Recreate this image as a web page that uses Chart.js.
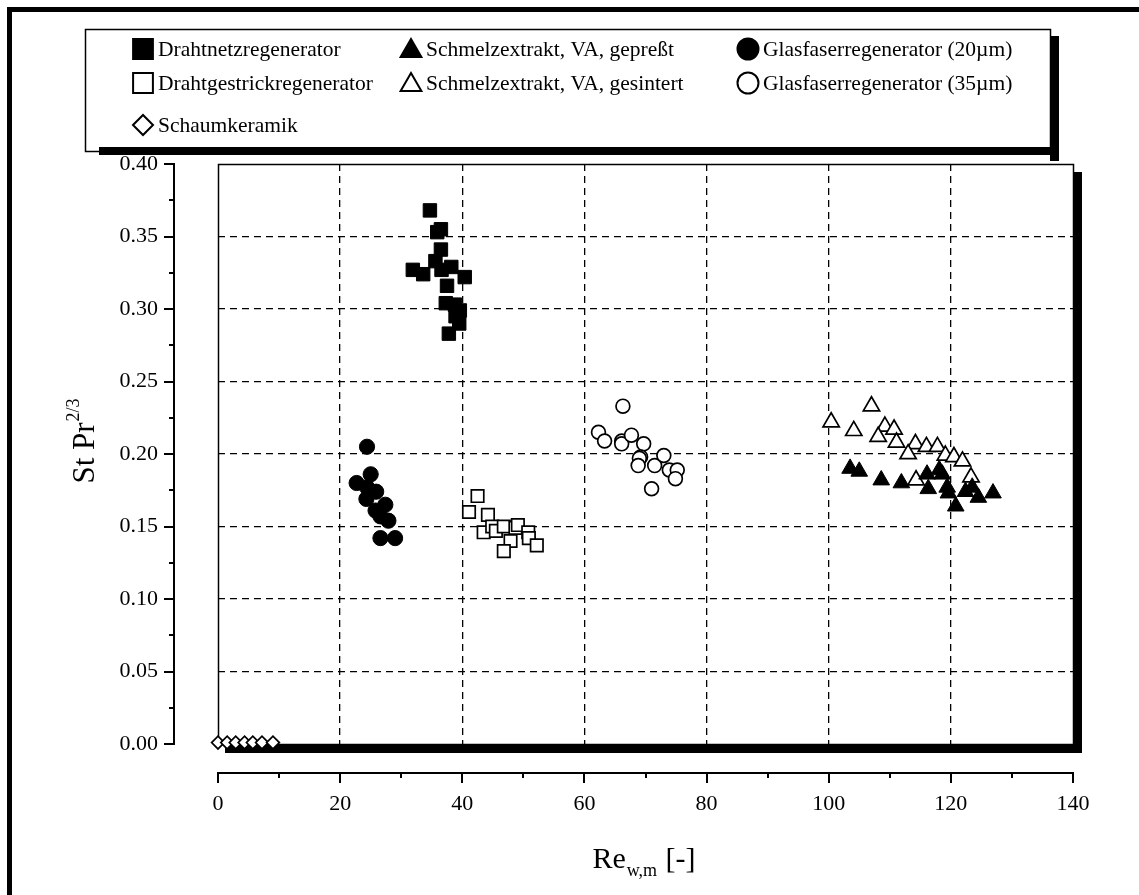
<!DOCTYPE html>
<html>
<head>
<meta charset="utf-8">
<title>St Pr^2/3 über Re</title>
<script src="https://cdn.jsdelivr.net/npm/chart.js@4.4.1/dist/chart.umd.min.js"></script>
<style>
  html, body { margin: 0; padding: 0; background: #fff; }
  #wrap { width: 1139px; height: 895px; }
</style>
</head>
<body>
<div id="wrap"><canvas id="grafico" width="1139" height="895"></canvas></div>
<script>
// Messwerte [Re_w,m, St Pr^2/3]
const drahtnetz = [[34.7,0.368],[36.5,0.355],[35.9,0.353],[36.5,0.341],[35.6,0.333],[31.9,0.327],[33.6,0.324],[36.6,0.327],[38.2,0.329],[40.4,0.322],[37.5,0.316],[37.3,0.304],[38.8,0.303],[39.6,0.299],[38.9,0.295],[39.5,0.290],[37.8,0.283]];
const drahtgestrick = [[42.5,0.171],[41.1,0.160],[44.2,0.158],[43.5,0.146],[44.9,0.150],[45.5,0.147],[46.8,0.150],[48.7,0.149],[49.1,0.151],[47.9,0.140],[46.8,0.133],[50.8,0.146],[50.9,0.142],[52.2,0.137]];
const schaumkeramik = [[0,0.001],[1.5,0.001],[2.9,0.001],[4.35,0.001],[5.7,0.001],[7.2,0.001],[9.0,0.001]];
const gepresst = [[103.5,0.190],[105.0,0.188],[108.6,0.182],[111.9,0.180],[116.1,0.186],[118.1,0.189],[118.6,0.186],[116.3,0.176],[119.4,0.177],[119.6,0.173],[120.8,0.164],[122.4,0.174],[124.5,0.170],[126.9,0.173],[123.5,0.177]];
const gesintert = [[100.4,0.222],[107.0,0.233],[104.1,0.216],[109.2,0.219],[110.7,0.217],[108.1,0.212],[111.1,0.208],[114.2,0.207],[116.0,0.205],[117.8,0.205],[113.0,0.200],[119.1,0.199],[120.5,0.198],[121.9,0.195],[123.3,0.184],[114.3,0.182]];
const glas20 = [[24.4,0.205],[22.7,0.180],[25.0,0.186],[24.4,0.177],[25.9,0.174],[24.3,0.169],[27.4,0.165],[25.8,0.161],[26.6,0.157],[27.9,0.154],[26.6,0.142],[29.0,0.142]];
const glas35 = [[66.3,0.233],[62.3,0.215],[63.3,0.209],[66.1,0.209],[66.1,0.207],[67.7,0.213],[69.7,0.207],[69.2,0.198],[69.0,0.197],[68.8,0.192],[71.5,0.192],[73.0,0.199],[73.9,0.189],[75.2,0.189],[74.9,0.183],[71.0,0.176]];

const xMin = 0, xMax = 140, xStep = 20;
const yMin = 0, yMax = 0.4, yStep = 0.05;

// Legende: Name, Punktstil, gefüllt, Größe im Diagramm
const serien = [
  { label: 'Drahtnetzregenerator', data: drahtnetz, style: 'rect', filled: true, r: 9.5 },
  { label: 'Drahtgestrickregenerator', data: drahtgestrick, style: 'rect', filled: false, r: 8.8 },
  { label: 'Schaumkeramik', data: schaumkeramik, style: 'rectRot', filled: false, r: 6.4 },
  { label: 'Schmelzextrakt, VA, gepreßt', data: gepresst, style: 'triangle', filled: true, r: 9.6 },
  { label: 'Schmelzextrakt, VA, gesintert', data: gesintert, style: 'triangle', filled: false, r: 9.4 },
  { label: 'Glasfaserregenerator (20µm)', data: glas20, style: 'circle', filled: true, r: 7.6 },
  { label: 'Glasfaserregenerator (35µm)', data: glas35, style: 'circle', filled: false, r: 6.9 }
];

const SERIF = '"Liberation Serif", "Times New Roman", serif';
Chart.defaults.font.family = SERIF;
Chart.defaults.color = '#000';

function istRand(v, a, b) {
  return Math.abs(v - a) < 1e-9 || Math.abs(v - b) < 1e-9;
}

const rahmen = {
  id: 'rahmen',
  beforeDraw(chart) {
    const ctx = chart.ctx;
    ctx.save();
    ctx.fillStyle = '#fff';
    ctx.fillRect(0, 0, chart.width, chart.height);
    // äußerer Rahmen
    ctx.fillStyle = '#000';
    ctx.fillRect(7, 7, chart.width - 7, 5);
    ctx.fillRect(7, 7, 5, chart.height - 7);
    ctx.restore();
  },
  beforeDatasetsDraw(chart) {
    const { ctx, chartArea: a } = chart;
    ctx.save();
    ctx.strokeStyle = '#000';
    ctx.lineWidth = 1.5;
    ctx.strokeRect(a.left + 0.5, a.top + 0.5, a.right - a.left, a.bottom - a.top);
    ctx.fillStyle = '#000';
    ctx.fillRect(a.right, a.top + 8, 9, a.bottom - a.top + 1);
    ctx.fillRect(a.left + 7, a.bottom, a.right - a.left + 2, 9);
    ctx.restore();
  },
  afterDraw(chart) {
    const { ctx, scales } = chart;
    const xs = scales.x, ys = scales.y;
    ctx.save();
    ctx.strokeStyle = '#000';
    ctx.lineWidth = 2;

    // abgesetzte y-Achse
    const ax = 174;
    ctx.beginPath();
    ctx.moveTo(ax, ys.getPixelForValue(yMax) - 1);
    ctx.lineTo(ax, ys.getPixelForValue(yMin) + 1);
    for (let v = yMin; v <= yMax + 1e-9; v += yStep / 2) {
      const py = Math.round(ys.getPixelForValue(v));
      const major = Math.abs(Math.round(v / yStep) * yStep - v) < 1e-9;
      ctx.moveTo(ax - (major ? 10 : 5), py);
      ctx.lineTo(ax, py);
    }
    ctx.stroke();

    // abgesetzte x-Achse
    const ay = 773;
    ctx.beginPath();
    ctx.moveTo(xs.getPixelForValue(xMin) - 1, ay);
    ctx.lineTo(xs.getPixelForValue(xMax) + 1, ay);
    for (let v = xMin; v <= xMax; v += xStep / 2) {
      const px = Math.round(xs.getPixelForValue(v));
      ctx.moveTo(px, ay);
      ctx.lineTo(px, ay + (v % xStep === 0 ? 10 : 5));
    }
    ctx.stroke();

    // Achsentitel
    ctx.fillStyle = '#000';
    ctx.textBaseline = 'alphabetic';
    ctx.font = '30px ' + SERIF;
    const re = 'Re', sub = 'w,m', rest = ' [-]';
    const wRe = ctx.measureText(re).width, wRest = ctx.measureText(rest).width;
    ctx.font = '18px ' + SERIF;
    const wSub = ctx.measureText(sub).width;
    const tx = 644 - (wRe + wSub + 2 + wRest) / 2;
    ctx.font = '30px ' + SERIF;
    ctx.fillText(re, tx, 868);
    ctx.font = '18px ' + SERIF;
    ctx.fillText(sub, tx + wRe + 1, 876);
    ctx.font = '30px ' + SERIF;
    ctx.fillText(rest, tx + wRe + wSub + 2, 868);

    ctx.save();
    ctx.translate(94, 0);
    ctx.rotate(-Math.PI / 2);
    ctx.font = '31px ' + SERIF;
    const st = 'St Pr';
    const wSt = ctx.measureText(st).width;
    ctx.font = '18px ' + SERIF;
    const sup = '2/3';
    const wSup = ctx.measureText(sup).width;
    const start = -441 - (wSt + wSup + 1) / 2;
    ctx.font = '31px ' + SERIF;
    ctx.fillText(st, start, 0);
    ctx.font = '18px ' + SERIF;
    ctx.fillText(sup, start + wSt + 1, -15);
    ctx.restore();

    // Legende
    const L = { left: 85, top: 29, right: 1050, bottom: 151 };
    ctx.lineWidth = 1.5;
    ctx.strokeRect(L.left + 0.5, L.top + 0.5, L.right - L.left, L.bottom - L.top);
    ctx.fillRect(L.right, L.top + 7, 9, L.bottom - L.top + 3);
    ctx.fillRect(L.left + 14, L.bottom - 4, L.right - L.left - 5, 8);

    const spalten = [143, 411, 748];
    const zeilen = [49, 83, 125];
    const plaetze = [[0, 0], [0, 1], [0, 2], [1, 0], [1, 1], [2, 0], [2, 1]];
    const legR = { rect: 14, rectRot: 10, triangle: 12, circle: 10.5 };
    serien.forEach((s, i) => {
      const [c, z] = plaetze[i];
      const mx = spalten[c], my = zeilen[z];
      ctx.fillStyle = s.filled ? '#000' : '#fff';
      ctx.strokeStyle = '#000';
      ctx.lineWidth = 2;
      Chart.helpers.drawPoint(ctx, {
        pointStyle: s.style, radius: legR[s.style], rotation: 0, borderWidth: 2
      }, mx, s.style === 'triangle' ? my + 2 : my);
      ctx.fillStyle = '#000';
      ctx.font = '21.5px ' + SERIF;
      ctx.textBaseline = 'middle';
      ctx.fillText(s.label, mx + 15, my + 1);
    });
    ctx.restore();
  }
};

new Chart(document.getElementById('grafico'), {
  type: 'scatter',
  data: {
    datasets: serien.map(s => ({
      label: s.label,
      data: s.data.map(([x, y]) => ({ x, y })),
      pointStyle: s.style,
      pointRadius: s.r,
      pointHoverRadius: s.r,
      pointBackgroundColor: s.filled ? '#000' : '#fff',
      pointBorderColor: '#000',
      pointBorderWidth: s.filled ? 1 : 1.7,
      showLine: false,
      clip: false
    }))
  },
  options: {
    responsive: false,
    animation: false,
    devicePixelRatio: 1,
    layout: { padding: { top: 164, right: 66, bottom: 0, left: 0 } },
    plugins: { legend: { display: false }, tooltip: { enabled: false } },
    scales: {
      x: {
        type: 'linear', min: xMin, max: xMax,
        afterFit: sc => { sc.height = 151; },
        ticks: { stepSize: xStep, padding: 47, font: { size: 22 }, color: '#000', maxRotation: 0 },
        grid: {
          drawTicks: false,
          color: c => istRand(c.tick.value, xMin, xMax) ? 'rgba(0,0,0,0)' : '#000',
          lineWidth: 1.3
        },
        border: { display: false, dash: [7, 5] }
      },
      y: {
        type: 'linear', min: yMin, max: yMax,
        afterFit: sc => { sc.width = 218; },
        ticks: { stepSize: yStep, padding: 60, font: { size: 22 }, color: '#000',
          callback: v => Number(v).toFixed(2) },
        grid: {
          drawTicks: false,
          color: c => istRand(c.tick.value, yMin, yMax) ? 'rgba(0,0,0,0)' : '#000',
          lineWidth: 1.3
        },
        border: { display: false, dash: [7, 5] }
      }
    }
  },
  plugins: [rahmen]
});
</script>
</body>
</html>
